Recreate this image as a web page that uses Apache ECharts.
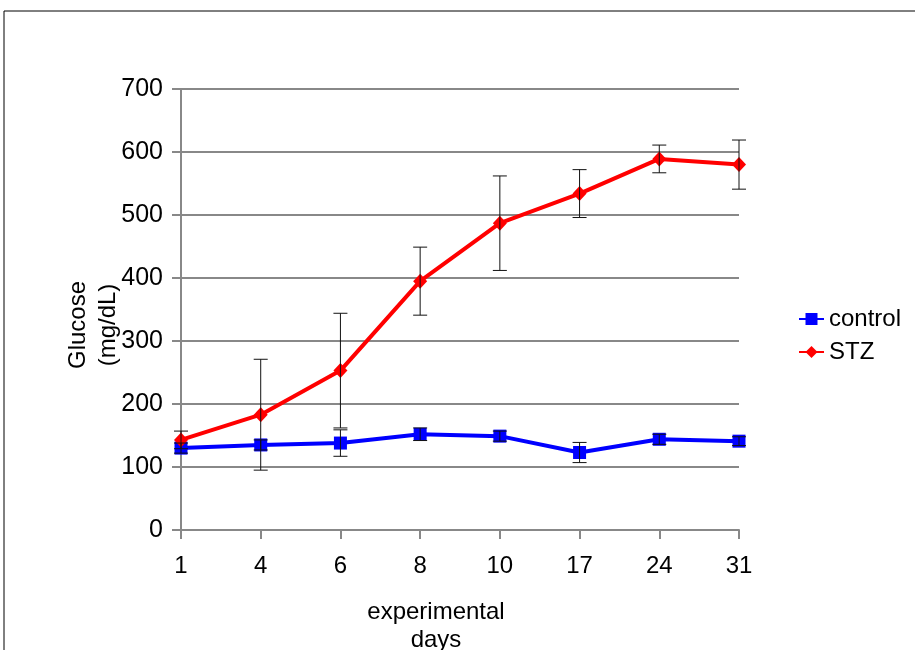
<!DOCTYPE html>
<html><head><meta charset="utf-8">
<script src="https://cdn.jsdelivr.net/npm/echarts@6/dist/echarts.min.js"></script>
<style>html,body{margin:0;padding:0;background:#fff}#c{width:915px;height:650px}</style>
</head><body><div id="c"></div>
<script>
const days = ['1','4','6','8','10','17','24','31'];
const controlMean = [130, 135, 138, 152, 149, 123, 144, 141];
const controlErr  = [8, 8, 21, 10, 8, 16, 8, 7];
const stzMean = [143, 183, 253, 395, 487, 534, 589, 580];
const stzErr  = [14, 88, 91, 54, 75, 38, 22, 39];
const yTicks = [0, 100, 200, 300, 400, 500, 600, 700];

const chart = echarts.init(document.getElementById('c'));
function errData(mean, err){ return mean.map((m,i)=>[i, m-err[i], m+err[i]]); }
function errSeries(mean, err){
  return {
    type:'custom', silent:true, z:10,
    data: errData(mean, err),
    renderItem: function(params, api){
      const x = api.value(0);
      const lo = api.coord([x, api.value(1)]);
      const hi = api.coord([x, api.value(2)]);
      const w = 7;
      const st = {stroke:'#111', lineWidth:1};
      return {type:'group', children:[
        {type:'line', shape:{x1:lo[0],y1:lo[1],x2:hi[0],y2:hi[1]}, style:st},
        {type:'line', shape:{x1:lo[0]-w,y1:lo[1],x2:lo[0]+w,y2:lo[1]}, style:st},
        {type:'line', shape:{x1:hi[0]-w,y1:hi[1],x2:hi[0]+w,y2:hi[1]}, style:st}
      ]};
    }
  };
}
const font = 'Liberation Sans, Arial, sans-serif';
chart.setOption({
  animation:false,
  backgroundColor:'#fff',
  grid:{left:181, right:176, top:89, bottom:120, containLabel:false},
  xAxis:{type:'category', data:days, boundaryGap:false,
    axisLine:{lineStyle:{color:'#888', width:2}},
    axisTick:{show:true, alignWithLabel:true, length:9, lineStyle:{color:'#888', width:2}},
    axisLabel:{color:'#000', fontSize:24, fontFamily:font, margin:24},
    splitLine:{show:false}},
  yAxis:{type:'value', min:0, max:700, interval:100,
    axisLine:{show:true, lineStyle:{color:'#888', width:2}},
    axisTick:{show:true, length:9, lineStyle:{color:'#888', width:2}},
    axisLabel:{color:'#000', fontSize:25, fontFamily:font, margin:18},
    splitLine:{lineStyle:{color:'#888', width:2}}},
  legend:{orient:'vertical', left:793, top:302, itemGap:9, itemWidth:25, itemHeight:15,
    textStyle:{fontSize:24, fontFamily:font, color:'#000', padding:[0,0,0,0]},
    data:['control','STZ']},
  graphic:[
    {type:'rect', shape:{x:4, y:11, width:1000, height:1000}, style:{fill:'none', stroke:'#000', lineWidth:1}, silent:true, z:-1},
    {type:'text', x:93, y:325, rotation:Math.PI/2,
      style:{text:'Glucose\n(mg/dL)', fill:'#000', font:'24px '+font, align:'center', verticalAlign:'middle', lineHeight:30}},
    {type:'text', x:436, y:626,
      style:{text:'experimental\ndays', fill:'#000', font:'24px '+font, align:'center', verticalAlign:'middle', lineHeight:28}}
  ],
  series:[
    {name:'control', type:'line', data:controlMean, color:'#0000ff',
      symbol:'rect', symbolSize:13, lineStyle:{width:4, color:'#0000ff'},
      itemStyle:{color:'#0000ff'}, z:3},
    {name:'STZ', type:'line', data:stzMean, color:'#ff0000',
      symbol:'diamond', symbolSize:[14,15], lineStyle:{width:4, color:'#ff0000'},
      itemStyle:{color:'#ff0000'}, z:4},
    errSeries(controlMean, controlErr),
    errSeries(stzMean, stzErr)
  ]
});
</script></body></html>
